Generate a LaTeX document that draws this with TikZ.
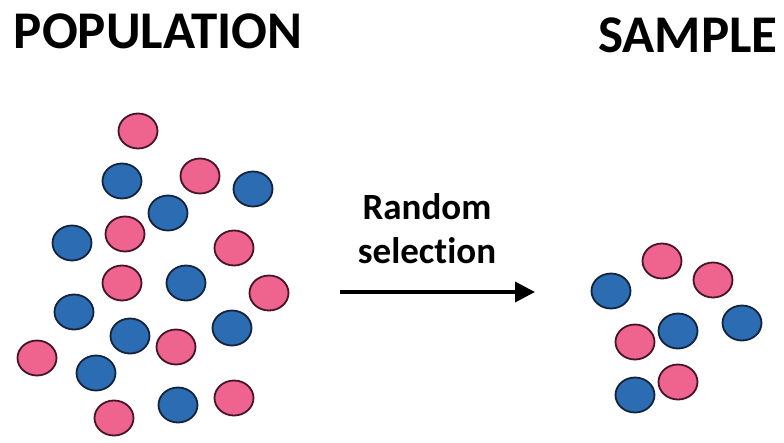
\documentclass[tikz,border=0pt]{standalone}
\usepackage{fontspec}
\setmainfont[RawFeature=-liga]{Carlito}
\usetikzlibrary{arrows.meta,shapes.geometric}
\definecolor{pinkfill}{RGB}{238,100,142}
\definecolor{pinkline}{RGB}{70,20,40}
\definecolor{bluefill}{RGB}{44,108,178}
\definecolor{blueline}{RGB}{20,35,60}
\begin{document}
\begin{tikzpicture}[x=1pt,y=-1pt,
  dot/.style={ellipse,minimum width=39pt,minimum height=35pt,inner sep=0pt,line width=1.8pt},
  pk/.style={dot,draw=pinkline,fill=pinkfill},
  bl/.style={dot,draw=blueline,fill=bluefill},
  title/.style={font=\fontsize{53}{60}\selectfont\bfseries,inner sep=0pt},
  lab/.style={font=\fontsize{37}{44}\selectfont\bfseries,inner sep=0pt,align=center}]
\useasboundingbox (0,0) rectangle (784,442);
\node[title] (pop) at (158,31) {POPULATION};
\node[title] (samp) at (688,35) {SAMPLE};
% population
\node[pk] (p1) at (138,131) {};
\node[bl] (p2) at (122,181) {};
\node[pk] (p3) at (200,176) {};
\node[bl] (p4) at (253,189) {};
\node[bl] (p5) at (168,213) {};
\node[bl] (p6) at (72,243) {};
\node[pk] (p7) at (125,234) {};
\node[pk] (p8) at (234,248) {};
\node[pk] (p9) at (122,283) {};
\node[bl] (p10) at (186,283) {};
\node[pk] (p11) at (269,293) {};
\node[bl] (p12) at (74,312) {};
\node[bl] (p13) at (130,336) {};
\node[pk] (p14) at (176,347) {};
\node[bl] (p15) at (232,328) {};
\node[pk] (p16) at (37,358) {};
\node[bl] (p17) at (96,373) {};
\node[pk] (p18) at (114,418) {};
\node[bl] (p19) at (178,405) {};
\node[pk] (p20) at (234,398) {};
% sample
\node[pk] (s1) at (662,261) {};
\node[bl] (s2) at (611,291) {};
\node[pk] (s3) at (713,280) {};
\node[bl] (s4) at (742,323) {};
\node[bl] (s5) at (678,331) {};
\node[pk] (s6) at (635,342) {};
\node[pk] (s7) at (678,382) {};
\node[bl] (s8) at (635,395) {};
% arrow
\coordinate (a1) at (340,292);
\coordinate (a2) at (535,292);
\draw[line width=3.5pt,-{Triangle[length=20pt,width=20pt]}] (a1) -- (a2);
\node[lab] (rs) at (427,229) {Random\\selection};
\end{tikzpicture}
\end{document}
